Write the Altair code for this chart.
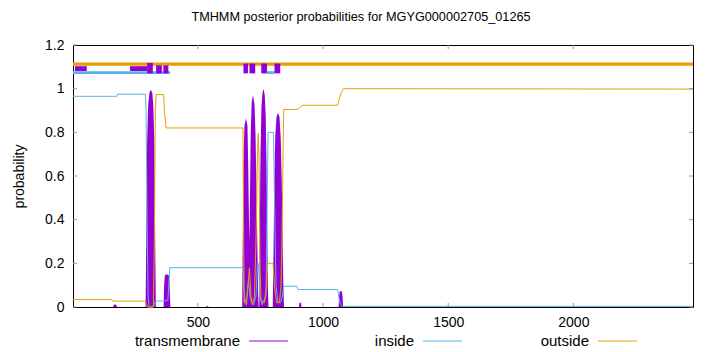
import altair as alt
import pandas as pd

# ---------------- data ----------------
seq_len = 2478
chart_title = "TMHMM posterior probabilities for MGYG000002705_01265"

x_ticks = [500, 1000, 1500, 2000]
y_ticks = [0, 0.2, 0.4, 0.6, 0.8, 1.0, 1.2]

# transmembrane posterior (residue, probability)
tm_curve = [
    (1, 0), (160, 0), (166, 0.012), (172, 0.012), (178, 0), (291, 0),
    (294, 0.35), (297, 0.75), (301, 0.92), (306, 0.98), (312, 0.995), (318, 0.98),
    (322, 0.92), (326, 0.75), (329, 0.35), (332, 0),
    (363, 0), (365, 0.1), (368, 0.145), (376, 0.15), (384, 0.145), (387, 0.1),
    (390, 0), (530, 0), (537, 0.005), (544, 0),
    (677, 0), (679, 0.3), (682, 0.65), (686, 0.83), (692, 0.865), (698, 0.83),
    (701, 0.65), (704, 0.4), (706, 0.3), (708, 0.5), (711, 0.8), (715, 0.94),
    (720, 0.97), (726, 0.93), (730, 0.8), (734, 0.55), (738, 0.25), (741, 0.05),
    (743, 0), (745, 0), (747, 0.3), (750, 0.7), (754, 0.92), (758, 0.98),
    (762, 1.0), (767, 0.97), (771, 0.87), (774, 0.65), (777, 0.35), (780, 0.07),
    (782, 0), (799, 0), (802, 0.25), (805, 0.55), (809, 0.78), (814, 0.87),
    (820, 0.89), (826, 0.87), (831, 0.77), (835, 0.57), (838, 0.35), (841, 0.12),
    (844, 0), (904, 0), (906, 0.02), (912, 0.02), (914, 0),
    (1062, 0), (1064, 0.05), (1067, 0.072), (1075, 0.072), (1078, 0.05),
    (1080, 0), (2478, 0),
]

# inside posterior
inside_curve = [
    (1, 0.965), (176, 0.965), (180, 0.975), (290, 0.975), (293, 0.9), (297, 0.4),
    (301, 0.05), (305, 0), (322, 0), (330, 0.027), (365, 0.027), (380, 0.03),
    (388, 0.18), (680, 0.18), (683, 0.1), (688, 0.02), (696, 0.05), (702, 0.12),
    (708, 0.05), (714, 0.02), (722, 0.01), (732, 0.05), (738, 0.2), (742, 0.2),
    (748, 0.05), (756, 0.01), (772, 0.05), (776, 0.4), (780, 0.8), (802, 0.8),
    (806, 0.5), (812, 0.1), (820, 0.02), (830, 0.02), (838, 0.05), (842, 0.095),
    (896, 0.095), (900, 0.08), (1058, 0.08), (1064, 0.04), (1070, 0.01),
    (1078, 0.003), (2478, 0.003),
]

# outside posterior
outside_curve = [
    (1, 0.034), (156, 0.034), (160, 0.027), (290, 0.027), (294, 0.01), (298, 0),
    (322, 0), (326, 0.3), (330, 0.9), (333, 0.973), (363, 0.973), (366, 0.9),
    (373, 0.82), (680, 0.82), (682, 0.4), (685, 0.02), (694, 0.01), (700, 0.1),
    (706, 0.18), (712, 0.05), (718, 0.01), (726, 0.05), (732, 0.3), (738, 0.7),
    (741, 0.795), (744, 0.7), (748, 0.2), (752, 0.03), (766, 0.02), (774, 0.1),
    (778, 0.2), (800, 0.2), (806, 0.1), (814, 0.02), (826, 0.02), (832, 0.1),
    (836, 0.3), (840, 0.7), (843, 0.905), (896, 0.905), (905, 0.91), (917, 0.924),
    (1058, 0.924), (1064, 0.95), (1072, 0.98), (1082, 1.0), (2478, 0.998),
]

# predicted topology bars at the top (start, end, low, high)
outside_bars = [(1, 2478, 1.105, 1.12)]
inside_bars = [(1, 389, 1.067, 1.08), (776, 806, 1.067, 1.08)]
tm_bars = [
    (9, 56, 1.081, 1.103), (229, 297, 1.081, 1.103), (297, 320, 1.070, 1.118),
    (333, 356, 1.070, 1.107), (362, 382, 1.070, 1.107), (682, 700, 1.070, 1.115),
    (706, 729, 1.070, 1.115), (753, 776, 1.070, 1.115), (806, 829, 1.070, 1.115),
]

legend_labels = ["transmembrane", "inside", "outside"]

# ---------------- styling ----------------
FONT = "Liberation Sans"
PURPLE = "#9400d3"
BLUE = "#56b4e9"
ORANGE = "#e69f00"
TICK = "#9a9a9a"
W, H = 620, 262


def curve_df(c):
    return pd.DataFrame(c, columns=["pos", "p"])


def bars_df(b):
    return pd.DataFrame(b, columns=["x0", "x1", "y0", "y1"])


x_scale = alt.Scale(domain=[1, seq_len], nice=False, zero=False)
y_scale = alt.Scale(domain=[0, 1.2], nice=False, zero=False)

x_axis = alt.Axis(values=x_ticks, format="d", ticks=False, domain=False,
                  grid=False, labelFont=FONT, labelFontSize=14,
                  labelColor="black", labelPadding=8, title=None)
y_axis = alt.Axis(values=y_ticks, format="~g", ticks=False, domain=False,
                  grid=False, labelFont=FONT, labelFontSize=14,
                  labelColor="black", labelPadding=9, title="probability",
                  titleFont=FONT, titleFontSize=14, titleFontWeight="normal",
                  titleColor="black", titlePadding=18)


def X(field):
    return alt.X(field, scale=x_scale, axis=x_axis)


def Y(field):
    return alt.Y(field, scale=y_scale, axis=y_axis)


tm_layer = alt.Chart(curve_df(tm_curve)).mark_area(color=PURPLE, opacity=1).encode(
    x=X("pos:Q"), y=Y("p:Q"))

in_layer = alt.Chart(curve_df(inside_curve)).mark_line(color=BLUE, strokeWidth=1).encode(
    x=X("pos:Q"), y=Y("p:Q"))

out_layer = alt.Chart(curve_df(outside_curve)).mark_line(color=ORANGE, strokeWidth=1).encode(
    x=X("pos:Q"), y=Y("p:Q"))


def bar_layer(b, color):
    return alt.Chart(bars_df(b)).mark_rect(color=color).encode(
        x=X("x0:Q"), x2="x1:Q", y=Y("y0:Q"), y2="y1:Q")


out_bars = bar_layer(outside_bars, ORANGE)
in_bars = bar_layer(inside_bars, BLUE)
tm_bars_l = bar_layer(tm_bars, PURPLE)

# inward ticks (gnuplot style) on all four sides
xt = pd.DataFrame({"v": x_ticks})
yt = pd.DataFrame({"v": y_ticks})
xt_bottom = alt.Chart(xt).mark_rule(color=TICK).encode(
    x=X("v:Q"), y=alt.value(H), y2=alt.value(H - 4))
xt_top = alt.Chart(xt).mark_rule(color=TICK).encode(
    x=X("v:Q"), y=alt.value(0), y2=alt.value(4))
yt_left = alt.Chart(yt).mark_rule(color=TICK).encode(
    y=Y("v:Q"), x=alt.value(0), x2=alt.value(4))
yt_right = alt.Chart(yt).mark_rule(color=TICK).encode(
    y=Y("v:Q"), x=alt.value(W - 4), x2=alt.value(W))

# legend (label, then line sample) below the axis
leg_right = [167, 341, 516]
leg = pd.DataFrame({
    "label": legend_labels,
    "color": [PURPLE, BLUE, ORANGE],
    "tx": leg_right,
    "lx": [v + 9 for v in leg_right],
    "lx2": [v + 48 for v in leg_right],
})
leg_text = alt.Chart(leg).mark_text(align="right", baseline="middle", font=FONT,
                                    fontSize=15, color="black").encode(
    x=alt.X("tx:Q", scale=None), y=alt.value(H + 34), text="label:N")
leg_line = alt.Chart(leg).mark_rule(strokeWidth=1).encode(
    x=alt.X("lx:Q", scale=None), x2="lx2:Q", y=alt.value(H + 34),
    color=alt.Color("color:N", scale=None))

chart = alt.layer(
    tm_layer, in_layer, out_layer, out_bars, in_bars, tm_bars_l,
    xt_bottom, xt_top, yt_left, yt_right, leg_text, leg_line,
).properties(
    width=W, height=H,
    title=alt.TitleParams(text=chart_title, font=FONT, fontSize=12.7,
                          fontWeight="normal", color="black", anchor="middle",
                          dx=-22, offset=14),
    autosize=alt.AutoSizeParams(type="none"),
    padding={"left": 73, "top": 45, "right": 27, "bottom": 45},
    background="white",
).configure_view(stroke="black", strokeWidth=1)

chart.save("out.html", embed_options={"renderer": "svg", "actions": False})
